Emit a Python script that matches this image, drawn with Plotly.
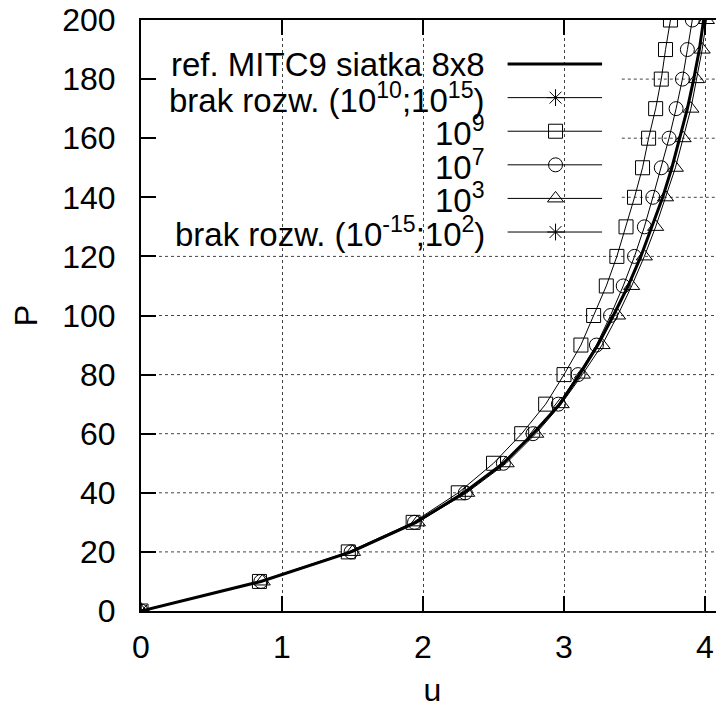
import plotly.graph_objects as go

# load levels P and displacements u
P = [0, 10, 20, 30, 40, 50, 60, 70, 80, 90, 100,
     110, 120, 130, 140, 150, 160, 170, 180, 190, 200]

u_ref = [0, 0.85, 1.49, 1.95, 2.29, 2.57, 2.78, 2.97, 3.11, 3.24, 3.35,
         3.455, 3.545, 3.625, 3.70, 3.765, 3.82, 3.875, 3.92, 3.96, 3.99]
u_e9 = [0, 0.84, 1.47, 1.93, 2.25, 2.50, 2.70, 2.87, 3.00, 3.12, 3.21,
        3.30, 3.375, 3.44, 3.50, 3.557, 3.60, 3.65, 3.69, 3.72, 3.755]
u_e7 = [0, 0.85, 1.49, 1.94, 2.30, 2.57, 2.78, 2.96, 3.10, 3.23, 3.33,
        3.42, 3.50, 3.57, 3.63, 3.69, 3.745, 3.795, 3.84, 3.875, 3.91]
u_e3 = [0, 0.86, 1.50, 1.96, 2.31, 2.59, 2.80, 2.98, 3.13, 3.27, 3.38,
        3.48, 3.57, 3.65, 3.72, 3.79, 3.845, 3.90, 3.94, 3.98, 4.01]
# "brak rozw." = no solution, only the starting point exists
u_none = [0]
P_none = [0]

labels = [
    "ref. MITC9 siatka 8x8",
    "brak rozw. (10<sup>10</sup>;10<sup>15</sup>)",
    "10<sup>9</sup>",
    "10<sup>7</sup>",
    "10<sup>3</sup>",
    "brak rozw. (10<sup>-15</sup>;10<sup>2</sup>)",
]
symbols = [None, "asterisk-open", "square-open", "circle-open",
           "triangle-up-open", "asterisk-open"]
series = [(u_ref, P), (u_none, P_none), (u_e9, P), (u_e7, P),
          (u_e3, P), (u_none, P_none)]

x_ticks = [0, 1, 2, 3, 4]
y_ticks = [0, 20, 40, 60, 80, 100, 120, 140, 160, 180, 200]

FONT = "Liberation Sans, Arial, sans-serif"
FS_TICK = 32
FS_KEY = 33
X_MAX = 583 / 141.0

fig = go.Figure()

for i, (xs, ys) in enumerate(series):
    if symbols[i] is None:
        fig.add_trace(go.Scatter(x=xs, y=ys, mode="lines",
                                 line=dict(color="black", width=3),
                                 showlegend=False))
    else:
        fig.add_trace(go.Scatter(x=xs, y=ys, mode="lines+markers",
                                 line=dict(color="black", width=1),
                                 marker=dict(symbol=symbols[i], size=14,
                                             color="black",
                                             line=dict(color="black", width=1)),
                                 showlegend=False))

# gnuplot-like key: right-aligned text, sample on the right
KEY_TEXT_X = 2.454
KEY_X0, KEY_X1, KEY_XM = 2.60, 3.27, 2.94
KEY_Y0, KEY_DY = 185.1, 11.37
for i, lab in enumerate(labels):
    yk = KEY_Y0 - i * KEY_DY
    fig.add_annotation(x=KEY_TEXT_X, y=yk, text=lab, showarrow=False,
                       xanchor="right", yanchor="middle",
                       font=dict(family=FONT, size=FS_KEY, color="black"))
    fig.add_trace(go.Scatter(x=[KEY_X0, KEY_X1], y=[yk, yk], mode="lines",
                             line=dict(color="black", width=3 if symbols[i] is None else 1),
                             showlegend=False, hoverinfo="skip"))
    if symbols[i] is not None:
        fig.add_trace(go.Scatter(x=[KEY_XM], y=[yk], mode="markers",
                                 marker=dict(symbol=symbols[i], size=14, color="black",
                                             line=dict(color="black", width=1)),
                                 showlegend=False, hoverinfo="skip"))

# horizontal grid, hidden behind the key box like in the original
for yv in y_ticks[1:-1]:
    x0 = 3.41 if 123 < yv < 193 else 0
    fig.add_shape(type="line", xref="x", yref="y", x0=x0, x1=X_MAX, y0=yv, y1=yv,
                  line=dict(color="#444", width=1, dash="dot"), layer="below")

# page body adds an 8px offset, margins compensate for it
fig.update_layout(
    width=716, height=702,
    margin=dict(l=133, r=0, t=12, b=99),
    plot_bgcolor="white", paper_bgcolor="white",
    font=dict(family=FONT, size=FS_TICK, color="black"),
)
fig.update_xaxes(range=[0, X_MAX], tickvals=x_ticks, ticks="inside", ticklen=15,
                 tickwidth=2, tickcolor="black", showline=True, linecolor="black",
                 linewidth=2, mirror="ticks", showgrid=True, gridcolor="#444",
                 griddash="dot", gridwidth=1, zeroline=False, automargin=False,
                 ticklabelstandoff=7, ticklabeloverflow="allow",
                 title=dict(text="u", standoff=14, font=dict(size=FS_TICK)))
fig.update_yaxes(range=[0, 200], tickvals=y_ticks, ticks="inside", ticklen=15,
                 tickwidth=2, tickcolor="black", showline=True, linecolor="black",
                 linewidth=2, showgrid=False, zeroline=False, automargin=False,
                 ticklabelstandoff=17, ticklabeloverflow="allow",
                 title=dict(text="P", standoff=19, font=dict(size=FS_TICK)))

fig.write_html("out.html")
